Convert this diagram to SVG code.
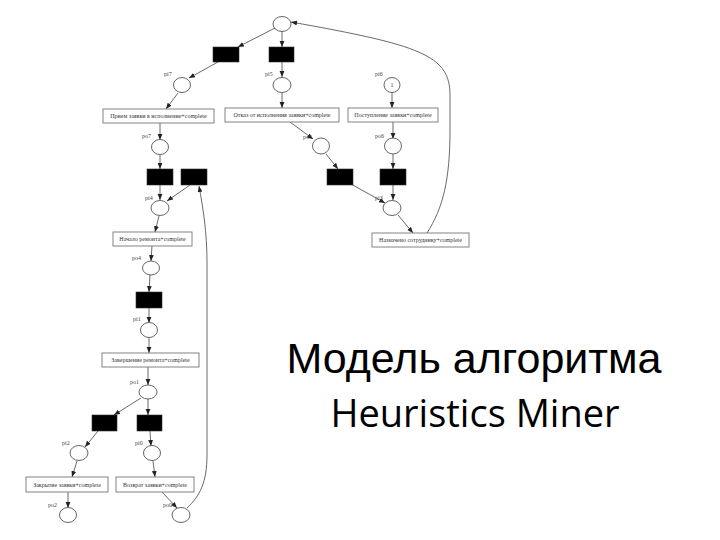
<svg xmlns="http://www.w3.org/2000/svg" width="720" height="540" viewBox="0 0 720 540">
<style>
.pl{fill:#fff;stroke:#555;stroke-width:0.9}
.tr{fill:#000;stroke:#333;stroke-width:0.6}
.bx{fill:#fff;stroke:#777;stroke-width:0.9}
.bt{font-family:"Liberation Serif",serif;font-size:6px;fill:#333;text-anchor:middle}
.lb{font-family:"Liberation Serif",serif;font-size:6px;fill:#444}
.e{fill:none;stroke:#444;stroke-width:0.8;marker-end:url(#a)}
.title{font-family:"Liberation Sans",Arial,sans-serif;font-size:43px;fill:#000;text-anchor:middle}
.sub{font-family:"Open Sans","Noto Sans",sans-serif;font-size:38px;fill:#000;text-anchor:middle}
</style>
<defs>
<marker id="a" viewBox="0 0 10 10" refX="10" refY="5" markerWidth="6" markerHeight="6" markerUnits="userSpaceOnUse" orient="auto">
<path d="M0,1 L10,5 L0,9 z" fill="#222"/>
</marker>
</defs>
<rect width="720" height="540" fill="#fff"/>

<g id="connectors">
<line class="e" x1="275" y1="28" x2="238" y2="47"/>
<line class="e" x1="282" y1="31" x2="282" y2="47"/>
<line class="e" x1="218" y1="62" x2="189" y2="78"/>
<line class="e" x1="282" y1="62" x2="282" y2="77"/>
<line class="e" x1="178" y1="93" x2="166" y2="109"/>
<line class="e" x1="282" y1="92" x2="282" y2="108"/>
<line class="e" x1="392" y1="92" x2="392" y2="108"/>
<line class="e" x1="160" y1="123" x2="160" y2="140"/>
<line class="e" x1="290" y1="122" x2="313" y2="139"/>
<line class="e" x1="393" y1="122" x2="393" y2="139"/>
<line class="e" x1="160" y1="155" x2="160" y2="169"/>
<line class="e" x1="326" y1="154" x2="338" y2="169"/>
<line class="e" x1="393" y1="154" x2="393" y2="169"/>
<line class="e" x1="160" y1="185" x2="160" y2="200"/>
<line class="e" x1="190" y1="185" x2="167" y2="201"/>
<line class="e" x1="351" y1="184" x2="385" y2="203"/>
<line class="e" x1="393" y1="185" x2="393" y2="200"/>
<line class="e" x1="159" y1="216" x2="155" y2="232"/>
<line class="e" x1="398" y1="215" x2="413" y2="233"/>
<line class="e" x1="152" y1="246" x2="151" y2="261"/>
<line class="e" x1="150" y1="275" x2="149" y2="292"/>
<line class="e" x1="149" y1="308" x2="149" y2="323"/>
<line class="e" x1="149" y1="338" x2="149" y2="353"/>
<line class="e" x1="148" y1="367" x2="148" y2="385"/>
<line class="e" x1="141" y1="398" x2="114" y2="415"/>
<line class="e" x1="148" y1="399" x2="148" y2="415"/>
<line class="e" x1="98" y1="431" x2="85" y2="447"/>
<line class="e" x1="150" y1="431" x2="151" y2="446"/>
<line class="e" x1="77" y1="461" x2="72" y2="477"/>
<line class="e" x1="153" y1="461" x2="155" y2="477"/>
<line class="e" x1="68" y1="492" x2="68" y2="508"/>
<line class="e" x1="162" y1="492" x2="177" y2="508"/>
<path class="e" d="M427,233 C443,208 450,180 450,130 L450,95 C450,55 420,45 291,22"/>
<path class="e" d="M187,508 C200,496 207,482 207,455 L207,262 C207,232 203,208 199,186"/>
</g>

<g id="p_top"><ellipse class="pl" cx="282" cy="24" rx="9" ry="7.5"/></g>
<g id="t_1"><rect class="tr" x="213" y="47" width="26" height="15"/></g>
<g id="t_2"><rect class="tr" x="269" y="47" width="25" height="15"/></g>
<g id="pi7"><ellipse class="pl" cx="182" cy="85" rx="8.5" ry="7.5"/><text class="lb" x="164" y="76">pi7</text></g>
<g id="pi5"><ellipse class="pl" cx="282" cy="85" rx="9" ry="7.5"/><text class="lb" x="265" y="76">pi5</text></g>
<g id="pi6"><ellipse class="pl" cx="392" cy="85" rx="8" ry="7.5"/><text class="lb" x="392" y="87" text-anchor="middle">1</text><text class="lb" x="375" y="76">pi6</text></g>

<g id="b_priem"><rect class="bx" x="103" y="109" width="111" height="14"/><text class="bt" x="158.5" y="118">Прием заявки в исполнение+complete</text></g>
<g id="b_otkaz"><rect class="bx" x="225" y="108" width="114" height="14"/><text class="bt" x="282" y="117">Отказ от исполнения заявки+complete</text></g>
<g id="b_post"><rect class="bx" x="348" y="108" width="90" height="14"/><text class="bt" x="393" y="117">Поступление заявки+complete</text></g>

<g id="po7"><ellipse class="pl" cx="160" cy="147" rx="8.5" ry="7.5"/><text class="lb" x="142" y="138">po7</text></g>
<g id="po5"><ellipse class="pl" cx="321" cy="146" rx="8.5" ry="8"/><text class="lb" x="303" y="139">po5</text></g>
<g id="po6"><ellipse class="pl" cx="393" cy="146" rx="8.5" ry="8"/><text class="lb" x="375" y="138">po6</text></g>

<g id="t_3"><rect class="tr" x="147" y="169" width="26" height="16"/></g>
<g id="t_4"><rect class="tr" x="181" y="169" width="26" height="16"/></g>
<g id="t_5"><rect class="tr" x="327" y="169" width="26" height="16"/></g>
<g id="t_6"><rect class="tr" x="380" y="169" width="26" height="16"/></g>

<g id="pi4"><ellipse class="pl" cx="160" cy="208" rx="9" ry="7.5"/><text class="lb" x="145" y="200">pi4</text></g>
<g id="pi3"><ellipse class="pl" cx="392" cy="208" rx="9" ry="7.5"/><text class="lb" x="375" y="200">pi3</text></g>

<g id="b_nach"><rect class="bx" x="113" y="232" width="79" height="14"/><text class="bt" x="152.5" y="241">Начало ремонта+complete</text></g>
<g id="b_naz"><rect class="bx" x="372" y="233" width="97" height="14"/><text class="bt" x="420.5" y="242">Назначено сотруднику+complete</text></g>

<g id="po4"><ellipse class="pl" cx="151" cy="268" rx="8.5" ry="7"/><text class="lb" x="132" y="260">po4</text></g>
<g id="t_7"><rect class="tr" x="136" y="292" width="26" height="16"/></g>
<g id="pi1"><ellipse class="pl" cx="149" cy="330" rx="8.5" ry="7.5"/><text class="lb" x="133" y="321">pi1</text></g>
<g id="b_zav"><rect class="bx" x="102" y="353" width="97" height="14"/><text class="bt" x="150.5" y="362">Завершение ремонта+complete</text></g>
<g id="po1"><ellipse class="pl" cx="148" cy="392" rx="9" ry="7"/><text class="lb" x="130" y="384">po1</text></g>
<g id="t_8"><rect class="tr" x="92" y="415" width="25" height="16"/></g>
<g id="t_9"><rect class="tr" x="137" y="415" width="25" height="16"/></g>
<g id="pi2"><ellipse class="pl" cx="79" cy="453" rx="9" ry="7.5"/><text class="lb" x="62" y="445">pi2</text></g>
<g id="pi0"><ellipse class="pl" cx="152" cy="453" rx="8.5" ry="7.5"/><text class="lb" x="135" y="445">pi0</text></g>
<g id="b_zakr"><rect class="bx" x="26" y="477" width="82" height="15"/><text class="bt" x="67" y="486.5">Закрытие заявки+complete</text></g>
<g id="b_vozv"><rect class="bx" x="116" y="477" width="78" height="15"/><text class="bt" x="155" y="486.5">Возврат заявки+complete</text></g>
<g id="po2"><ellipse class="pl" cx="68" cy="515" rx="8.5" ry="7.5"/><text class="lb" x="48" y="507">po2</text></g>
<g id="po0"><ellipse class="pl" cx="181" cy="515" rx="9" ry="7.5"/><text class="lb" x="163" y="507">po0</text></g>

<g id="title">
<text class="title" x="474" y="373">Модель алгоритма</text>
<text class="sub" x="475" y="427">Heuristics Miner</text>
</g>
</svg>
